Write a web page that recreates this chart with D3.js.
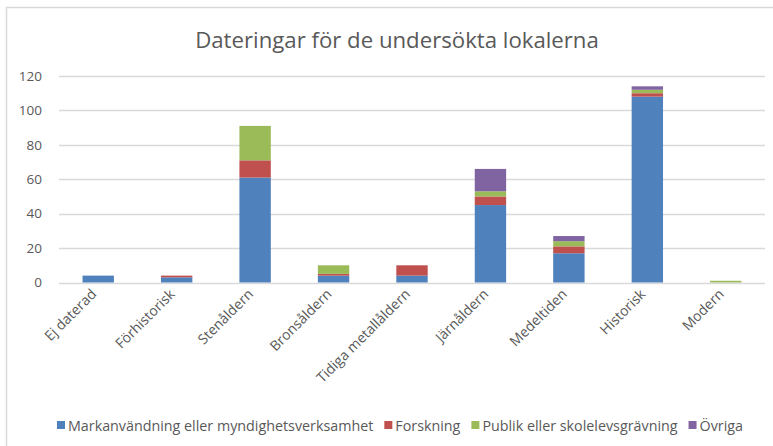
<!DOCTYPE html>
<html>
<head>
<meta charset="utf-8">
<script src="https://cdn.jsdelivr.net/npm/d3@7"></script>
<style>
  body { margin: 0; background: #fff; }
  svg { display: block; font-family: "Open Sans", "Liberation Sans", sans-serif; }
</style>
</head>
<body>
<div id="chart"></div>
<script>
// Categories and series
var categories = ['Ej daterad', 'Förhistorisk', 'Stenåldern', 'Bronsåldern', 'Tidiga metallåldern',
                  'Järnåldern', 'Medeltiden', 'Historisk', 'Modern'];
var seriesNames = ['Markanvändning eller myndighetsverksamhet', 'Forskning',
                   'Publik eller skolelevsgrävning', 'Övriga'];
var markanvandning = [4, 3, 61, 4, 4, 45, 17, 108, 0];
var forskning      = [0, 1, 10, 1, 6, 5, 4, 2, 0];
var publik         = [0, 0, 20, 5, 0, 3, 3, 2, 1];
var ovriga         = [0, 0, 0, 0, 0, 13, 3, 2, 0];
var yTicks = [0, 20, 40, 60, 80, 100, 120];
var colors = ['#4F81BD', '#C0504D', '#9BBB59', '#8064A2'];

var width = 773, height = 446;
var font = '"Open Sans", "Liberation Sans", sans-serif';
var svg = d3.select('#chart').append('svg').attr('width', width).attr('height', height);

// Chart border
svg.append('rect')
    .attr('x', 6.5).attr('y', 7.5)
    .attr('width', width).attr('height', height)
    .attr('fill', 'none').attr('stroke', '#d9d9d9').attr('stroke-width', 1.5);

// Title
svg.append('text')
    .attr('x', 397).attr('y', 48)
    .attr('text-anchor', 'middle')
    .attr('font-size', '22.2px')
    .attr('fill', '#595959')
    .text('Dateringar för de undersökta lokalerna');

// Build table for stacking
var table = categories.map(function (c, i) {
    return { cat: c, s0: markanvandning[i], s1: forskning[i], s2: publik[i], s3: ovriga[i] };
});
var stacked = d3.stack().keys(['s0', 's1', 's2', 's3'])(table);

var x = d3.scaleBand().domain(categories).range([59, 765]).paddingInner(0.6).paddingOuter(0.3);
var y = d3.scaleLinear().domain([0, 120]).range([282.5, 76]);

// Gridlines
svg.append('g').selectAll('line')
    .data(yTicks)
    .enter().append('line')
    .attr('x1', 59).attr('x2', 765)
    .attr('y1', function (d) { return Math.round(y(d)) + 0.5; })
    .attr('y2', function (d) { return Math.round(y(d)) + 0.5; })
    .attr('stroke', '#d9d9d9').attr('stroke-width', 1.3);

// Y axis labels
var yAxis = svg.append('g').attr('transform', 'translate(59,0)')
    .call(d3.axisLeft(y).tickValues(yTicks).tickSize(0).tickPadding(17));
yAxis.select('.domain').remove();
yAxis.selectAll('text').attr('font-size', '13.5px').attr('fill', '#595959')
    .attr('font-family', font);

// Bars
svg.append('g').selectAll('g')
    .data(stacked)
    .enter().append('g')
    .attr('fill', function (d, i) { return colors[i]; })
    .selectAll('rect')
    .data(function (d) { return d; })
    .enter().append('rect')
    .attr('x', function (d) { return x(d.data.cat); })
    .attr('y', function (d) { return y(d[1]); })
    .attr('width', x.bandwidth())
    .attr('height', function (d) { return y(d[0]) - y(d[1]); });

// X axis labels, rotated
var xAxis = svg.append('g').attr('transform', 'translate(0,283)')
    .call(d3.axisBottom(x).tickSize(0).tickPadding(0));
xAxis.select('.domain').remove();
xAxis.selectAll('text')
    .attr('font-size', '14px').attr('fill', '#595959')
    .attr('font-family', font)
    .attr('text-anchor', 'end')
    .attr('dy', 0)
    .attr('transform', 'translate(-1,12) rotate(-45)');

// Legend, laid out left to right from measured text widths
var legend = svg.append('g').attr('transform', 'translate(57,421)');
var lx = 0;
seriesNames.forEach(function (name, i) {
    var item = legend.append('g').attr('transform', 'translate(' + lx + ',0)');
    item.append('rect').attr('width', 8).attr('height', 8).attr('fill', colors[i]);
    var t = item.append('text')
        .attr('x', 11).attr('y', 9.5)
        .attr('font-size', '14.3px').attr('fill', '#595959')
        .text(name);
    lx += 11 + t.node().getComputedTextLength() + 11;
});
</script>
</body>
</html>
